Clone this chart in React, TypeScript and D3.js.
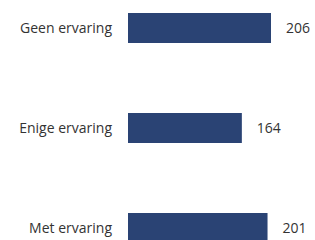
import { useEffect, useRef } from 'react';
import * as d3 from 'd3';

const categories = ['Geen ervaring', 'Enige ervaring', 'Met ervaring'];
const values = [206, 164, 201];

const width = 315;
const height = 240;
const barLeft = 128;

export default function App() {
  const svgRef = useRef<SVGSVGElement>(null);

  useEffect(() => {
    if (!svgRef.current) return;
    const svg = d3.select(svgRef.current);
    svg.selectAll('*').remove();

    const x = d3.scaleLinear().domain([0, 206]).range([barLeft, 271]);
    const y = d3
      .scaleBand<string>()
      .domain(categories)
      .range([-22, 278])
      .paddingInner(0.7)
      .paddingOuter(0.35);

    const rows = svg
      .selectAll('g.row')
      .data(categories)
      .enter()
      .append('g')
      .attr('class', 'row');

    // bars
    rows
      .append('rect')
      .attr('x', x(0))
      .attr('y', (d) => y(d)!)
      .attr('width', (_, i) => x(values[i]) - x(0))
      .attr('height', y.bandwidth())
      .attr('fill', '#2a4374');

    // category labels
    rows
      .append('text')
      .attr('x', 112)
      .attr('y', (d) => y(d)! + y.bandwidth() / 2)
      .attr('dy', '0.35em')
      .attr('text-anchor', 'end')
      .attr('font-family', '"Open Sans", sans-serif')
      .attr('font-size', '14px')
      .attr('fill', '#333')
      .text((d) => d);

    // value labels
    rows
      .append('text')
      .attr('x', (_, i) => x(values[i]) + 15)
      .attr('y', (d) => y(d)! + y.bandwidth() / 2)
      .attr('dy', '0.35em')
      .attr('font-family', '"Open Sans", sans-serif')
      .attr('font-size', '14px')
      .attr('fill', '#333')
      .text((_, i) => values[i]);
  }, []);

  return (
    <svg
      ref={svgRef}
      width={width}
      height={height}
      style={{ position: 'absolute', left: 0, top: 0, background: '#fff' }}
    />
  );
}
